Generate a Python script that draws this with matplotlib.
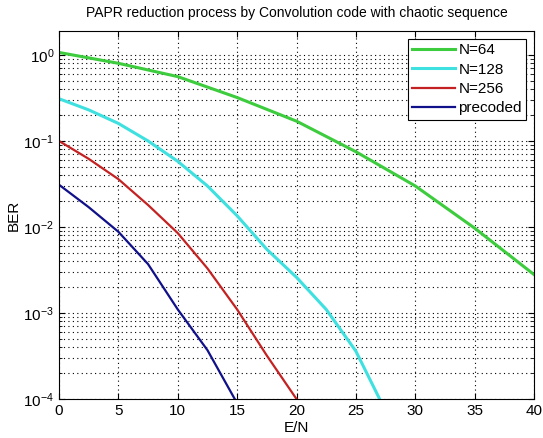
import matplotlib
matplotlib.use("Agg")
import matplotlib.pyplot as plt
from matplotlib.ticker import LogLocator, MultipleLocator, NullFormatter

plt.rcParams['font.family'] = ['Liberation Sans', 'DejaVu Sans']
plt.rcParams['mathtext.fontset'] = 'custom'
plt.rcParams['mathtext.rm'] = 'Liberation Sans'

x_n64 = [0, 5, 10, 15, 20, 25, 30, 35, 40]
ber_n64 = [1.07, 0.80, 0.56, 0.32, 0.17, 0.075, 0.030, 0.0097, 0.0028]

x_n128 = [0, 2.5, 5, 7.5, 10, 12.5, 15, 17.5, 20, 22.5, 25, 27]
ber_n128 = [0.31, 0.23, 0.16, 0.10, 0.058, 0.030, 0.0135, 0.0055, 0.0026, 0.0011, 0.00036, 0.0001]

x_n256 = [0, 2.5, 5, 7.5, 10, 12.5, 15, 17.5, 20]
ber_n256 = [0.1, 0.062, 0.036, 0.018, 0.0085, 0.0033, 0.0011, 0.00032, 0.0001]

x_pre = [0, 2.5, 5, 7.5, 10, 12.5, 14.8]
ber_pre = [0.031, 0.017, 0.0088, 0.0037, 0.0011, 0.00037, 0.0001]

labels = ['N=64', 'N=128', 'N=256', 'precoded']

fig = plt.figure(figsize=(5.43, 4.38), dpi=100)
ax = fig.add_axes([59/543, 1-399/438, (534-59)/543, (399-31)/438])

ax.semilogy(x_n64, ber_n64, color='#3dcc3d', lw=2.2, label=labels[0])
ax.semilogy(x_n128, ber_n128, color='#3fe0e0', lw=2.2, label=labels[1])
ax.semilogy(x_n256, ber_n256, color='#c42222', lw=1.6, label=labels[2])
ax.semilogy(x_pre, ber_pre, color='#10108a', lw=1.6, label=labels[3])

ax.set_xlim(0, 40)
ax.set_ylim(1e-4, 1.9)
ax.xaxis.set_major_locator(MultipleLocator(5))
ax.yaxis.set_major_locator(LogLocator(base=10, numticks=10))
ax.yaxis.set_minor_locator(LogLocator(base=10, subs=range(2, 10), numticks=20))
ax.yaxis.set_minor_formatter(NullFormatter())

ax.grid(True, which='major', linestyle=(0, (1, 3)), color='black', lw=0.8)
ax.grid(True, which='minor', axis='y', linestyle=(0, (1, 3)), color='black', lw=0.8)
ax.tick_params(which='both', direction='in', top=True, right=True, labelsize=11)
ax.tick_params(which='major', length=4)
ax.tick_params(which='minor', length=2)
for s in ax.spines.values():
    s.set_linewidth(0.8)

ax.set_title('PAPR reduction process by Convolution code with chaotic sequence', fontsize=10, pad=10)
ax.set_xlabel('E/N', fontsize=11, labelpad=2)
ax.set_ylabel('BER', fontsize=11, labelpad=2)

leg = ax.legend(loc='upper right', fontsize=11, fancybox=False, framealpha=1,
                edgecolor='black', handlelength=2.8, handletextpad=0.2,
                borderaxespad=0.5, labelspacing=0.35, borderpad=0.3)
leg.get_frame().set_linewidth(0.8)

fig.savefig('out.png', dpi=100)
